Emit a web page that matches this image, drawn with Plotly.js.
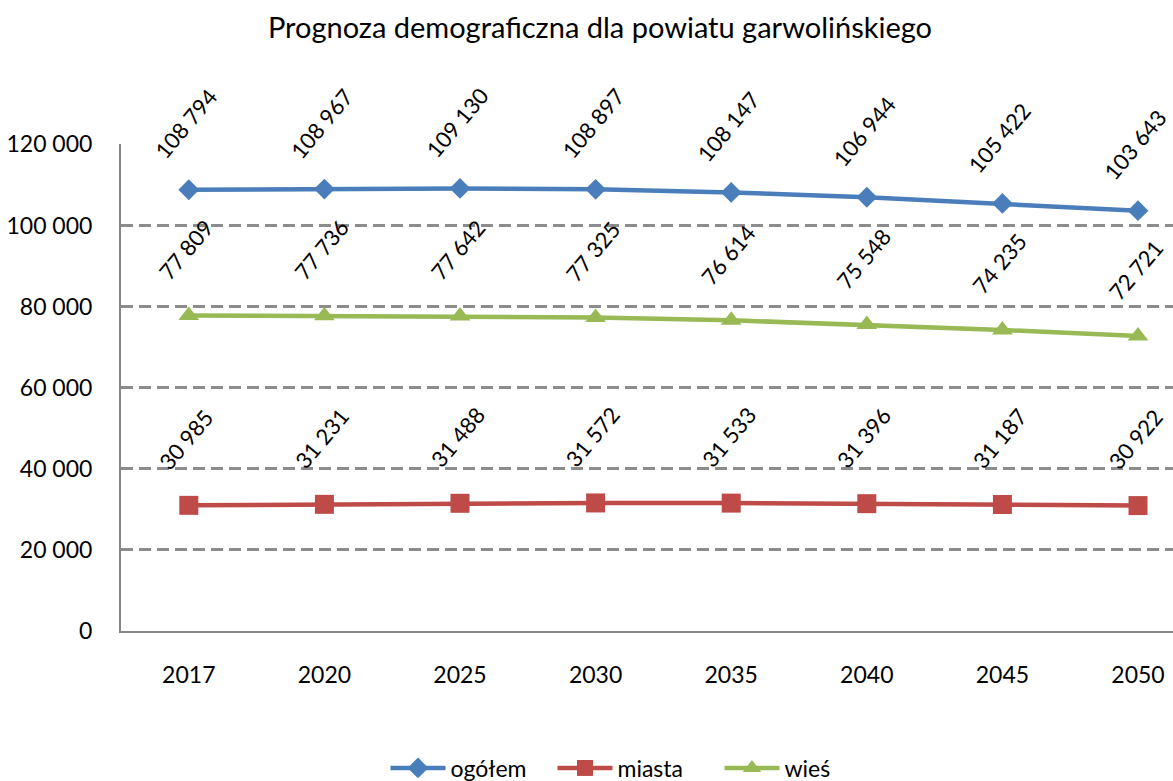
<!DOCTYPE html>
<html>
<head>
<meta charset="utf-8">
<script src="https://cdn.plot.ly/plotly-3.0.1.min.js"></script>
<style>html,body{margin:0;padding:0;background:#fff;}#chart{width:1173px;height:781px;}</style>
</head>
<body>
<div id="chart"></div>
<script>
const years = ["2017", "2020", "2025", "2030", "2035", "2040", "2045", "2050"];
const ogolem = [108794, 108967, 109130, 108897, 108147, 106944, 105422, 103643];
const miasta = [30985, 31231, 31488, 31572, 31533, 31396, 31187, 30922];
const wies = [77809, 77736, 77642, 77325, 76614, 75548, 74235, 72721];
const yTicks = [0, 20000, 40000, 60000, 80000, 100000, 120000];

const FONT = "Lato, 'Open Sans', sans-serif";
function fmt(v) { return String(v).replace(/\B(?=(\d{3})+(?!\d))/g, " "); }

const series = [
  {name: "ogółem", y: ogolem, color: "#4A7EBB", symbol: "diamond", size: 16},
  {name: "miasta", y: miasta, color: "#BE4B48", symbol: "square", size: 19},
  {name: "wieś", y: wies, color: "#98B954", symbol: "triangle-up", size: 18}
];

const traces = series.map(s => ({
  type: "scatter", mode: "lines+markers", name: s.name,
  x: years, y: s.y,
  line: {color: s.color, width: 4.5},
  marker: {color: s.color, symbol: s.symbol, size: s.size},
  cliponaxis: false
}));

const annotations = [];
series.forEach(s => {
  s.y.forEach((v, i) => {
    annotations.push({
      x: i, y: v, xref: "x", yref: "y",
      text: fmt(v), showarrow: false, textangle: -50,
      yshift: 66, xshift: -3,
      font: {family: FONT, size: 22, color: "#000"}
    });
  });
});

const layout = {
  width: 1173, height: 781,
  paper_bgcolor: "#fff", plot_bgcolor: "#fff",
  separators: ", ",
  margin: {l: 121, r: 0, t: 144, b: 150},
  font: {family: FONT, color: "#000"},
  title: {
    text: "Prognoza demograficzna dla powiatu garwolińskiego",
    font: {family: FONT, size: 29, color: "#000"},
    x: 600 / 1173, xref: "container", xanchor: "center",
    y: 1 - 28 / 781, yref: "container", yanchor: "middle"
  },
  xaxis: {
    type: "category", range: [-0.5, 7.258],
    showgrid: false, zeroline: false,
    showline: true, linecolor: "#868686", linewidth: 2,
    ticks: "", ticklabelstandoff: 22,
    tickfont: {family: FONT, size: 23, color: "#000"},
    fixedrange: true
  },
  yaxis: {
    range: [0, 120080], tickvals: yTicks, tickformat: ",d",
    showgrid: true, gridcolor: "#8C8C8C", gridwidth: 3, griddash: "12px,6px",
    zeroline: true, zerolinecolor: "#868686", zerolinewidth: 2,
    showline: true, linecolor: "#868686", linewidth: 2,
    ticks: "", ticklabelstandoff: 22,
    tickfont: {family: FONT, size: 23, color: "#000"},
    fixedrange: true
  },
  showlegend: true,
  legend: {
    orientation: "h", xref: "container", yref: "container",
    x: 636 / 1173, xanchor: "center", y: 1 - 768 / 781, yanchor: "middle",
    font: {family: FONT, size: 23, color: "#000"},
    itemwidth: 55, tracegroupgap: 0, entrywidth: 97
  },
  annotations: annotations
};

Plotly.newPlot("chart", traces, layout, {displayModeBar: false, staticPlot: true});
</script>
</body>
</html>
